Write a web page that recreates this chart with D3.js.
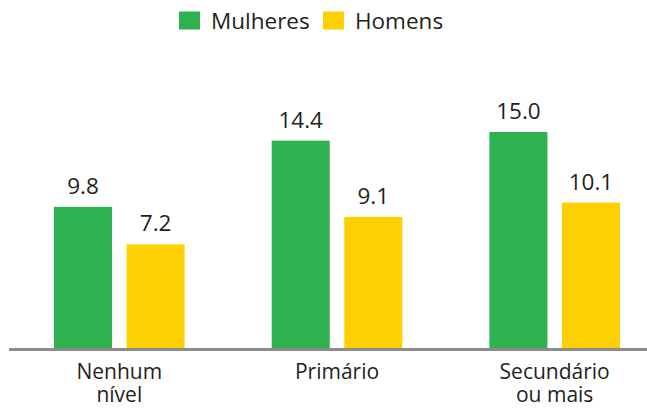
<!DOCTYPE html>
<html><head><meta charset="utf-8">
<script src="https://cdn.jsdelivr.net/npm/d3@7"></script>
<style>body{margin:0;background:#fff}svg{display:block}text{font-family:"Open Sans",sans-serif;fill:#231f20}</style>
</head><body><svg id="c" width="647" height="412"></svg>
<script>
const categories = [["Nenhum","nível"],["Primário"],["Secundário","ou mais"]];
const seriesNames = ["Mulheres","Homens"];
const mulheres = [9.8, 14.4, 15.0];
const homens = [7.2, 9.1, 10.1];
const colors = ["#2eb14e","#fed002"];

const svg = d3.select("#c");
const keys = categories.map(c=>c.join(" "));
const x0 = d3.scaleBand().domain(keys).range([54,620]).paddingInner(0.4).paddingOuter(0);
const x1 = d3.scaleBand().domain(seriesNames).range([0,x0.bandwidth()]).paddingInner(0.2);
const y = d3.scaleLinear().domain([0,15]).range([348,132]);
const color = d3.scaleOrdinal().domain(seriesNames).range(colors);

const data = keys.map((k,i)=>({k, vals:[{s:"Mulheres",v:mulheres[i]},{s:"Homens",v:homens[i]}]}));

const g = svg.selectAll("g.grp").data(data).join("g").attr("class","grp")
  .attr("transform",d=>`translate(${x0(d.k)},0)`);
g.selectAll("rect").data(d=>d.vals).join("rect")
  .attr("x",d=>x1(d.s)).attr("width",x1.bandwidth())
  .attr("y",d=>y(d.v)).attr("height",d=>y(0)-y(d.v))
  .attr("fill",d=>color(d.s));
g.selectAll("text.val").data(d=>d.vals).join("text").attr("class","val")
  .attr("x",d=>x1(d.s)+x1.bandwidth()/2).attr("y",d=>y(d.v)-13)
  .attr("text-anchor","middle").attr("font-size",22.5)
  .text(d=>d.v.toFixed(1));

// baseline
svg.append("line").attr("x1",9).attr("x2",647).attr("y1",349.5).attr("y2",349.5)
  .attr("stroke","#8c8c8c").attr("stroke-width",3);

// category labels
categories.forEach((lines,i)=>{
  const cx = x0(keys[i]) + x0.bandwidth()/2;
  const t = svg.append("text").attr("text-anchor","middle").attr("font-size",21);
  lines.forEach((ln,j)=>t.append("tspan").attr("x",cx).attr("y",379+j*22.5).text(ln));
});

// legend
const legX = [179,323];
seriesNames.forEach((s,i)=>{
  svg.append("rect").attr("x",legX[i]).attr("y",11.5).attr("width",21).attr("height",18).attr("fill",color(s));
  svg.append("text").attr("x",legX[i]+32).attr("y",28.5).attr("font-size",22.5).text(s);
});
</script></body></html>
